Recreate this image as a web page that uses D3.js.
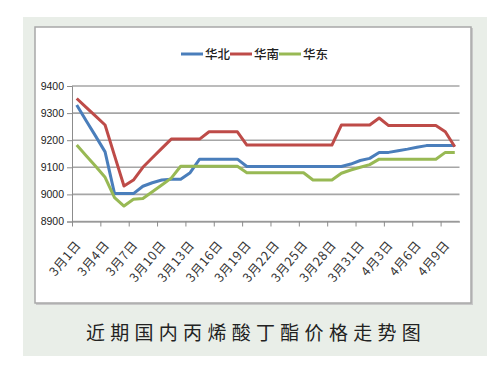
<!DOCTYPE html>
<html lang="zh-CN">

<head>
    <meta charset="UTF-8">
    <title>近期国内丙烯酸丁酯价格走势图</title>
    <script src="https://d3js.org/d3.v7.min.js"></script>
    <style>
        body {
            margin: 0;
            background: #fff;
        }

        text {
            font-family: "Liberation Sans", Arial, sans-serif;
        }

        .cjk {
            font-family: "Noto Sans CJK SC", sans-serif;
        }
    </style>
</head>

<body>
    <svg width="494" height="370"></svg>

    <script>
        // 日期
        const dates = [
            "3月1日", "3月2日", "3月3日", "3月4日", "3月5日", "3月6日", "3月7日", "3月8日", "3月9日", "3月10日",
            "3月11日", "3月12日", "3月13日", "3月14日", "3月15日", "3月16日", "3月17日", "3月18日", "3月19日", "3月20日",
            "3月21日", "3月22日", "3月23日", "3月24日", "3月25日", "3月26日", "3月27日", "3月28日", "3月29日", "3月30日",
            "3月31日", "4月1日", "4月2日", "4月3日", "4月4日", "4月5日", "4月6日", "4月7日", "4月8日", "4月9日",
            "4月10日"
        ];

        // 华北
        const north = [
            9330, 9272, 9215, 9157, 9003, 9003, 9003, 9030, 9043, 9053,
            9056, 9056, 9080, 9130, 9130, 9130, 9130, 9130, 9103, 9103,
            9103, 9103, 9103, 9103, 9103, 9103, 9103, 9103, 9103, 9112,
            9125, 9133, 9155, 9155, 9161, 9167, 9174, 9180, 9180, 9180,
            9180
        ];

        // 华南
        const south = [
            9354, 9321, 9289, 9256, 9143, 9031, 9053, 9100, 9135, 9170,
            9204, 9204, 9204, 9204, 9231, 9231, 9231, 9231, 9182, 9182,
            9182, 9182, 9182, 9182, 9182, 9182, 9182, 9182, 9256, 9256,
            9256, 9256, 9282, 9254, 9254, 9254, 9254, 9254, 9254, 9231,
            9176
        ];

        // 华东
        const east = [
            9182, 9143, 9104, 9063, 8988, 8957, 8982, 8985, 9010, 9035,
            9060, 9104, 9104, 9104, 9104, 9104, 9104, 9104, 9080, 9080,
            9080, 9080, 9080, 9080, 9080, 9053, 9053, 9053, 9078, 9090,
            9100, 9110, 9130, 9130, 9130, 9130, 9130, 9130, 9130, 9155,
            9155
        ];

        const seriesNames = ["华北", "华南", "华东"];
        const seriesColors = ["#4a7ebb", "#be4b48", "#98b954"];
        const yTicks = [8900, 9000, 9100, 9200, 9300, 9400];

        const svg = d3.select("svg");

        // 外框背景
        svg.append("rect")
            .attr("x", 23).attr("y", 17)
            .attr("width", 464).attr("height", 339)
            .attr("fill", "#e9eee8");

        // 图表白底
        svg.append("rect")
            .attr("x", 36).attr("y", 28)
            .attr("width", 437).attr("height", 277)
            .attr("fill", "#c8c8c8");
        svg.append("rect")
            .attr("x", 35).attr("y", 27)
            .attr("width", 436).attr("height", 276)
            .attr("fill", "#fff")
            .attr("stroke", "#a8a8a8")
            .attr("stroke-width", 1.5);

        const plotLeft = 72, plotRight = 459.5, plotTop = 86, plotBottom = 221.5;

        // 比例尺
        const x = d3.scaleBand()
            .domain(dates)
            .range([plotLeft, plotRight]);

        const xEdge = d3.scaleLinear()
            .domain([0, dates.length])
            .range([plotLeft, plotRight]);

        const y = d3.scaleLinear()
            .domain([8900, 9400])
            .range([plotBottom, plotTop]);

        // 网格线
        svg.append("g")
            .selectAll("line")
            .data(yTicks)
            .enter().append("line")
            .attr("x1", plotLeft).attr("x2", plotRight)
            .attr("y1", d => y(d)).attr("y2", d => y(d))
            .attr("stroke", "#a6a6a6")
            .attr("stroke-width", 1.6);

        // Y 轴
        const yAxis = svg.append("g")
            .attr("transform", `translate(${plotLeft},0)`)
            .call(d3.axisLeft(y).tickValues(yTicks).tickFormat(d3.format("d")).tickSize(5).tickPadding(3));
        yAxis.selectAll("path, line").attr("stroke", "#8c8c8c");
        yAxis.selectAll("text").attr("font-size", 10.5).attr("fill", "#222");

        // X 轴
        const tickIdx = d3.range(0, dates.length, 3);
        const xAxis = svg.append("g")
            .attr("transform", `translate(0,${plotBottom})`)
            .call(d3.axisBottom(xEdge).tickValues(tickIdx).tickSize(5).tickSizeOuter(0).tickFormat(""));
        xAxis.selectAll("path, line").attr("stroke", "#8c8c8c");

        svg.append("g")
            .selectAll("text")
            .data(tickIdx)
            .enter().append("text")
            .attr("class", "cjk")
            .attr("transform", i => `translate(${x(dates[i]) + x.bandwidth() / 2 + 5},${plotBottom + 24}) rotate(-50)`)
            .attr("text-anchor", "end")
            .attr("font-size", 12.5)
            .attr("letter-spacing", 0.6)
            .attr("fill", "#333")
            .text(i => dates[i]);

        // 折线
        const line = d3.line()
            .x((d, i) => x(dates[i]) + x.bandwidth() / 2)
            .y(d => y(d));

        [north, south, east].forEach((s, k) => {
            svg.append("path")
                .datum(s)
                .attr("fill", "none")
                .attr("stroke", seriesColors[k])
                .attr("stroke-width", 3)
                .attr("stroke-linejoin", "round")
                .attr("d", line);
        });

        // 图例
        const legend = svg.append("g")
            .selectAll("g")
            .data(seriesNames)
            .enter().append("g")
            .attr("transform", (d, i) => `translate(${181 + i * 49},54)`);

        legend.append("line")
            .attr("x1", 0).attr("x2", 22)
            .attr("stroke", (d, i) => seriesColors[i])
            .attr("stroke-width", 3);

        legend.append("text")
            .attr("class", "cjk")
            .attr("x", 24).attr("y", 4.5)
            .attr("font-size", 12.5)
            .attr("font-weight", 500)
            .attr("fill", "#222")
            .text(d => d);

        // 标题
        svg.append("text")
            .attr("class", "cjk")
            .attr("x", 256).attr("y", 340)
            .attr("text-anchor", "middle")
            .attr("font-size", 19)
            .attr("letter-spacing", 5.3)
            .attr("fill", "#222")
            .text("近期国内丙烯酸丁酯价格走势图");
    </script>
</body>

</html>
